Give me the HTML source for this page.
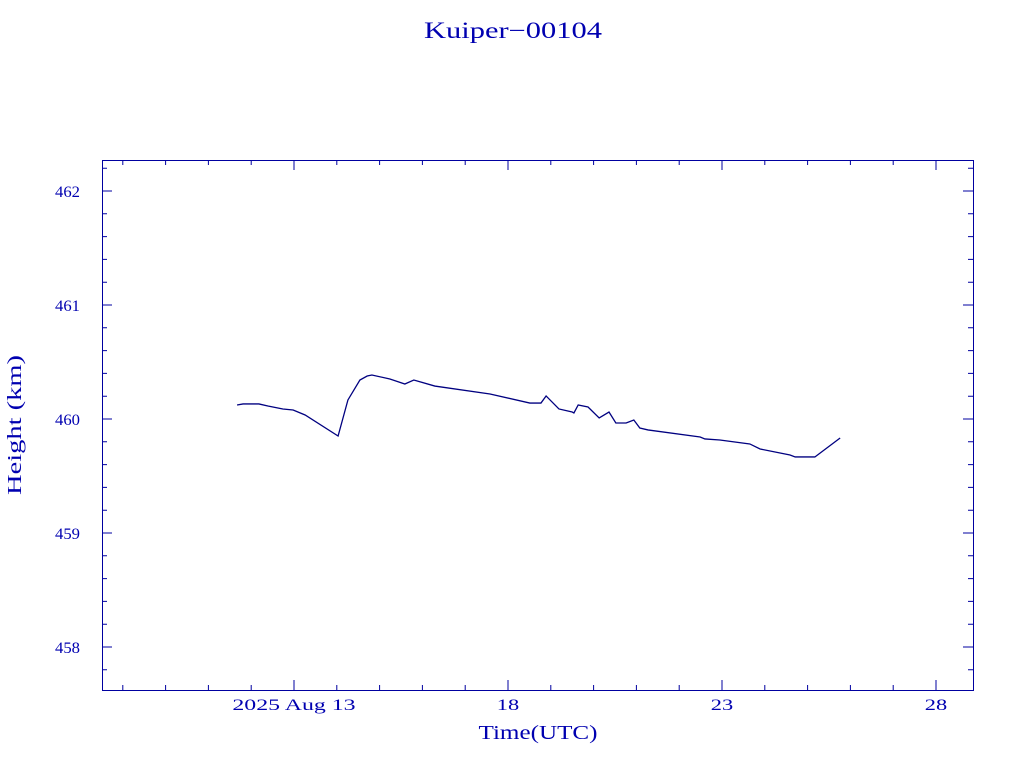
<!DOCTYPE html>
<html><head><meta charset="utf-8"><style>body{margin:0;background:#fff}svg{display:block}text{font-family:"Liberation Serif",serif;fill:#0000b0}</style></head>
<body>
<svg id="c" width="1024" height="768"></svg>
<script>
const days=[11.67,11.81,12.18,12.39,12.74,12.98,13.26,14.03,14.26,14.54,14.71,14.82,15.24,15.59,15.80,16.29,17.58,18.51,18.77,18.89,19.19,19.50,19.54,19.64,19.87,20.13,20.36,20.52,20.76,20.94,21.08,21.27,22.49,22.60,22.95,23.65,23.89,24.59,24.71,25.17,25.76];
const heights=[460.123,460.132,460.132,460.114,460.088,460.079,460.035,459.851,460.167,460.342,460.377,460.386,460.351,460.307,460.342,460.289,460.219,460.140,460.140,460.202,460.088,460.061,460.053,460.123,460.105,460.009,460.061,459.965,459.965,459.991,459.921,459.904,459.842,459.825,459.816,459.781,459.737,459.684,459.667,459.667,459.833];
const xTicks=[13,18,23,28];
const xTickLabels=["2025 Aug 13","18","23","28"];
const yTicks=[458,459,460,461,462];
const L=102,R=973,T=160,B=690,C="#0000a0";
const X=d=>294+(d-13)*42.8, Y=v=>419-(v-460)*114;
const s=document.getElementById('c'),NS="http://www.w3.org/2000/svg";
function mk(t,a,p){const e=document.createElementNS(NS,t);for(const k in a)e.setAttribute(k,a[k]);(p||s).appendChild(e);return e;}
const frame=mk('rect',{x:L+.5,y:T+.5,width:R-L,height:B-T,fill:'none',stroke:C});


let tp="";
for(let d=9;d<=28;d++){const x=X(d);if(x<L||x>R)continue;const l=xTicks.includes(d)?10:5;tp+=`M${x} ${B}v${-l}M${x} ${T}v${l}`;}
for(let v=457.8;v<=462.21;v+=0.2){const y=Y(v);const l=Math.abs(v-Math.round(v))<0.01?10:5;tp+=`M${L} ${y}h${l}M${R} ${y}h${-l}`;}
const ticks=mk('path',{d:tp,stroke:C,fill:'none'});


xTicks.forEach((d,i)=>{const lab=xTickLabels[i];const t=mk('text',{x:X(d),y:710,'text-anchor':'middle','font-size':16,textLength:lab.length*11.2,lengthAdjust:'spacingAndGlyphs'});t.textContent=lab;

});
yTicks.forEach(v=>{const t=mk('text',{x:80,y:Y(v)+6,'text-anchor':'end','font-size':16,textLength:25,lengthAdjust:'spacingAndGlyphs'});t.textContent=v;

});
const line=mk('polyline',{points:days.map((d,i)=>X(d)+','+Y(heights[i])).join(' '),fill:'none',stroke:'#000080','stroke-width':1.3});


</script>
<div style="position:absolute;left:0;top:0;width:1024px;height:768px;pointer-events:none">
<svg width="1024" height="768" style="position:absolute;left:0;top:0">
<text x="513" y="38" text-anchor="middle" font-size="23" textLength="178" lengthAdjust="spacingAndGlyphs">Kuiper−00104</text>
<text x="538" y="739" text-anchor="middle" font-size="20" textLength="119" lengthAdjust="spacingAndGlyphs">Time(UTC)</text>
<text x="21" y="425" text-anchor="middle" font-size="20" textLength="140" lengthAdjust="spacingAndGlyphs" transform="rotate(-90 21 425)">Height (km)</text>
</svg></div>
</body></html>
